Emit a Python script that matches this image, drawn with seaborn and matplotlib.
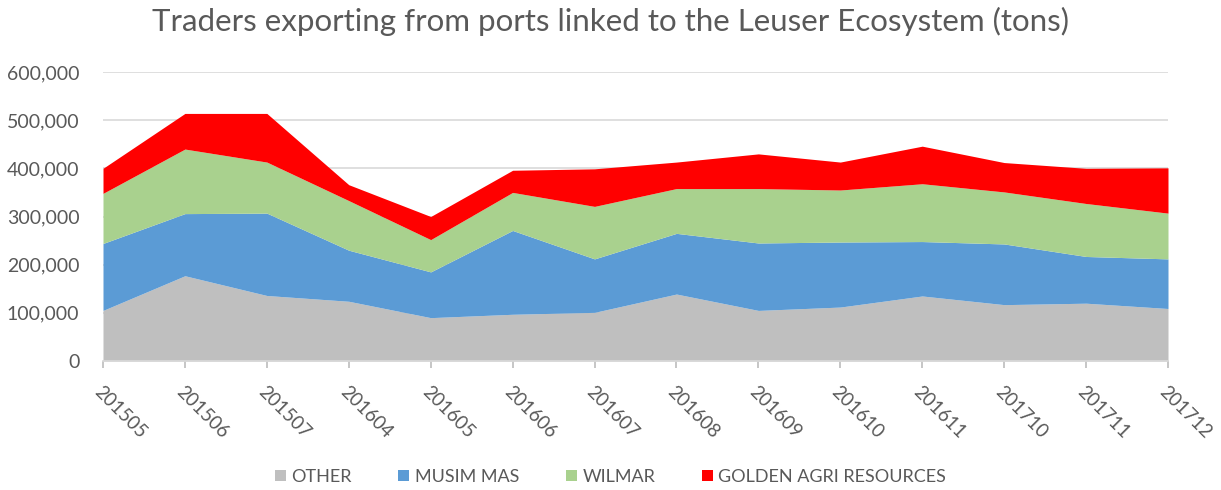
import matplotlib
matplotlib.use("Agg")
import matplotlib.pyplot as plt
import seaborn as sns
import numpy as np
from matplotlib.ticker import FuncFormatter

# monthly periods on the x axis
periods = ["201505", "201506", "201507", "201604", "201605", "201606", "201607",
           "201608", "201609", "201610", "201611", "201710", "201711", "201712"]

# export volumes per trader (tons)
other = [105000, 177000, 136000, 124000, 90000, 97000, 101000,
         139000, 105000, 112000, 135000, 117000, 120000, 109000]
musim_mas = [139000, 129000, 171000, 106000, 95000, 174000, 111000,
             126000, 140000, 135000, 113000, 126000, 97000, 103000]
wilmar = [104000, 134000, 106000, 103000, 67000, 79000, 109000,
          93000, 113000, 108000, 120000, 108000, 110000, 95000]
golden_agri = [52000, 74000, 101000, 33000, 48000, 46000, 78000,
               55000, 72000, 58000, 78000, 61000, 73000, 94000]

series_names = ["OTHER", "MUSIM MAS", "WILMAR", "GOLDEN AGRI RESOURCES"]
colors = ["#BFBFBF", "#5B9BD5", "#A9D18E", "#FF0000"]

sns.set_theme(style="white")
plt.rcParams['font.family'] = ['Lato', 'DejaVu Sans']

text_color = "#595959"

fig = plt.figure(figsize=(12.21, 4.9), dpi=100)
ax = fig.add_axes([103 / 1221, 1 - 361 / 490, (1168 - 103) / 1221, (361 - 72) / 490])

x = np.arange(len(periods))
ax.stackplot(x, other, musim_mas, wilmar, golden_agri,
             labels=series_names, colors=colors, linewidth=0, zorder=2)

ax.set_xlim(0, len(periods) - 1)
ax.set_ylim(0, 600000)
ax.set_yticks(np.arange(0, 600001, 100000))
ax.yaxis.set_major_formatter(FuncFormatter(lambda v, p: f"{int(v):,}"))
ax.yaxis.grid(True, color="#D9D9D9", linewidth=1.2, zorder=0)
ax.set_axisbelow(True)

ax.set_xticks(x)
ax.set_xticklabels(periods, rotation=-45, ha="left", va="top",
                   rotation_mode="anchor", fontsize=13.5, color=text_color)
ax.tick_params(axis="x", bottom=True, length=5, color="#BFBFBF", pad=11)
ax.tick_params(axis="y", left=False, labelsize=14, labelcolor=text_color, pad=11)

for side in ["top", "right", "left"]:
    ax.spines[side].set_visible(False)
ax.spines["bottom"].set_color("#D9D9D9")
ax.spines["bottom"].set_zorder(3)

fig.suptitle("Traders exporting from ports linked to the Leuser Ecosystem (tons)",
             y=0.985, fontsize=22.5, color=text_color)

fig.legend(loc="center", bbox_to_anchor=(0.5, 0.027), ncol=4, frameon=False,
           fontsize=13, handlelength=0.6, handleheight=0.6, handletextpad=0.3,
           columnspacing=2.6, labelcolor=text_color)

fig.savefig("out.png", dpi=100)
